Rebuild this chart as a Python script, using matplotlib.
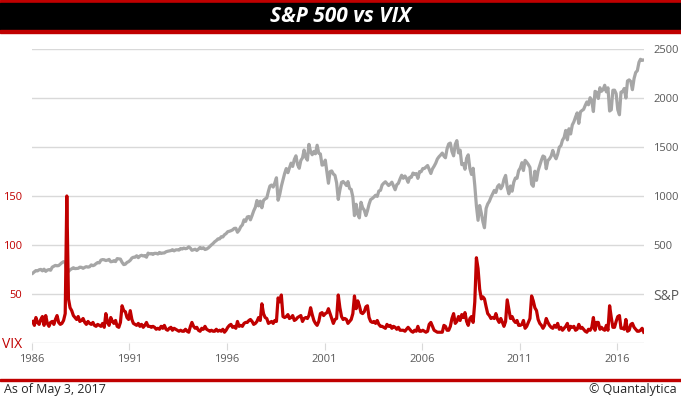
import numpy as np
import pandas as pd
import matplotlib
matplotlib.use("Agg")
import matplotlib.pyplot as plt
import matplotlib.dates as mdates
from matplotlib.patches import Rectangle

plt.rcParams['font.family'] = ['Open Sans', 'DejaVu Sans']

# monthly S&P 500 level, Jan 1986 .. May 2017
sp500 = [
    212, 227, 239, 236, 247, 251, 236, 253, 231, 244, 249, 242,        # 1986
    274, 284, 292, 288, 290, 304, 319, 330, 322, 225, 230, 247,        # 1987
    257, 268, 259, 261, 262, 274, 272, 262, 272, 279, 274, 278,        # 1988
    297, 289, 295, 310, 321, 318, 346, 351, 349, 341, 346, 353,        # 1989
    329, 332, 340, 331, 361, 358, 356, 323, 300, 304, 322, 330,        # 1990
    344, 367, 375, 375, 390, 371, 388, 395, 388, 392, 375, 417,        # 1991
    409, 413, 404, 415, 415, 408, 424, 414, 418, 419, 431, 436,        # 1992
    439, 443, 452, 440, 450, 451, 448, 464, 459, 468, 462, 466,        # 1993
    482, 467, 446, 451, 457, 444, 458, 475, 463, 472, 454, 459,        # 1994
    470, 487, 501, 515, 533, 545, 562, 562, 584, 582, 605, 616,        # 1995
    636, 640, 646, 654, 669, 671, 630, 652, 687, 705, 757, 741,        # 1996
    786, 791, 757, 801, 848, 885, 954, 899, 947, 880, 955, 970,        # 1997
    980, 1049, 1102, 1112, 1091, 1134, 1186, 957, 1017, 1099, 1164, 1229,  # 1998
    1280, 1238, 1286, 1335, 1302, 1373, 1410, 1320, 1283, 1363, 1389, 1469,  # 1999
    1394, 1366, 1527, 1452, 1421, 1455, 1431, 1518, 1437, 1429, 1315, 1320,  # 2000
    1366, 1240, 1130, 1249, 1256, 1224, 1211, 1134, 965, 1060, 1139, 1148,  # 2001
    1130, 1107, 1147, 1077, 1067, 990, 800, 916, 815, 777, 936, 880,    # 2002
    856, 800, 848, 917, 964, 975, 990, 1008, 996, 1051, 1058, 1112,    # 2003
    1131, 1145, 1126, 1107, 1121, 1141, 1102, 1064, 1115, 1130, 1174, 1212,  # 2004
    1181, 1204, 1181, 1140, 1191, 1191, 1234, 1220, 1229, 1180, 1249, 1248,  # 2005
    1280, 1281, 1295, 1311, 1270, 1230, 1277, 1304, 1336, 1378, 1401, 1418,  # 2006
    1438, 1407, 1390, 1482, 1531, 1540, 1455, 1410, 1527, 1565, 1440, 1468,  # 2007
    1320, 1331, 1273, 1386, 1420, 1280, 1220, 1283, 1106, 900, 752, 903,  # 2008
    826, 735, 676, 873, 919, 946, 987, 1021, 1057, 1036, 1096, 1115,   # 2009
    1074, 1104, 1169, 1210, 1089, 1022, 1102, 1049, 1141, 1183, 1181, 1258,  # 2010
    1286, 1340, 1260, 1364, 1345, 1321, 1292, 1120, 1099, 1253, 1160, 1258,  # 2011
    1312, 1366, 1408, 1398, 1278, 1362, 1379, 1407, 1465, 1412, 1380, 1426,  # 2012
    1498, 1515, 1569, 1598, 1669, 1573, 1686, 1633, 1725, 1757, 1806, 1848,  # 2013
    1741, 1859, 1872, 1884, 1924, 1960, 1931, 2003, 1972, 1862, 2068, 2059,  # 2014
    1995, 2105, 2068, 2086, 2130, 2063, 2104, 1867, 1880, 2079, 2080, 2044,  # 2015
    1880, 1829, 2060, 2065, 2097, 2000, 2174, 2185, 2168, 2085, 2199, 2260,  # 2016
    2279, 2364, 2395, 2384, 2388,                                      # 2017
]

# monthly VIX level, Jan 1986 .. May 2017
vix = [
    22, 18, 26, 21, 19, 24, 27, 18, 28, 20, 17, 21,      # 1986
    22, 19, 24, 28, 21, 19, 20, 23, 30, 150, 45, 36,     # 1987
    33, 28, 26, 24, 27, 22, 23, 25, 21, 19, 22, 20,      # 1988
    19, 21, 18, 17, 19, 18, 17, 20, 16, 30, 21, 18,      # 1989
    26, 22, 20, 23, 17, 16, 21, 38, 33, 32, 26, 24,      # 1990
    33, 24, 20, 19, 18, 20, 17, 19, 16, 18, 21, 17,      # 1991
    17, 16, 17, 16, 14, 15, 14, 17, 15, 18, 14, 13,      # 1992
    15, 16, 13, 15, 14, 13, 12, 13, 12, 12, 14, 12,      # 1993
    11, 17, 21, 17, 15, 16, 13, 12, 15, 14, 17, 14,      # 1994
    13, 12, 13, 12, 12, 14, 12, 13, 12, 14, 11, 13,      # 1995
    16, 18, 19, 16, 17, 15, 22, 17, 18, 17, 20, 21,      # 1996
    21, 23, 24, 22, 19, 20, 22, 26, 23, 40, 30, 26,      # 1997
    25, 20, 21, 22, 20, 23, 22, 46, 42, 49, 27, 26,      # 1998
    27, 29, 25, 26, 28, 23, 24, 26, 27, 28, 22, 25,      # 1999
    26, 25, 28, 36, 29, 23, 20, 18, 22, 30, 31, 28,      # 2000
    30, 31, 35, 30, 25, 20, 24, 25, 49, 36, 27, 24,      # 2001
    25, 24, 20, 22, 24, 30, 48, 35, 43, 38, 31, 30,      # 2002
    32, 37, 38, 26, 22, 21, 22, 20, 23, 19, 17, 17,      # 2003
    16, 15, 19, 17, 18, 15, 17, 16, 14, 16, 13, 13,      # 2004
    13, 12, 14, 16, 14, 12, 11, 13, 12, 17, 12, 12,      # 2005
    13, 12, 11, 12, 19, 21, 17, 13, 12, 11, 11, 11,      # 2006
    11, 18, 17, 13, 13, 17, 25, 30, 20, 22, 27, 23,      # 2007
    29, 26, 31, 22, 18, 25, 27, 21, 42, 87, 76, 55,      # 2008
    45, 47, 45, 37, 30, 28, 25, 26, 25, 30, 24, 21,      # 2009
    25, 21, 17, 22, 44, 34, 25, 27, 23, 21, 23, 18,      # 2010
    18, 19, 23, 15, 17, 21, 25, 48, 43, 36, 33, 24,      # 2011
    20, 18, 15, 18, 25, 21, 18, 16, 15, 18, 16, 20,      # 2012
    14, 16, 13, 15, 17, 20, 13, 17, 16, 17, 13, 14,      # 2013
    19, 15, 16, 14, 12, 11, 14, 13, 16, 26, 13, 21,      # 2014
    21, 14, 16, 14, 13, 18, 13, 38, 26, 16, 16, 22,      # 2015
    27, 28, 15, 15, 14, 24, 12, 13, 19, 20, 16, 14,      # 2016
    12, 12, 13, 15, 11,                                  # 2017
]

dates = pd.date_range('1986-01-01', periods=len(sp500), freq='MS') + pd.Timedelta(days=14)

sp_ticks = [-500, 0, 500, 1000, 1500, 2000, 2500]
sp_labels = ['', 'S&P', '500', '1000', '1500', '2000', '2500']
vix_ticks = [0, 50, 100, 150, 200, 250, 300]
vix_labels = ['VIX', '50', '100', '150', '', '', '']
year_ticks = pd.to_datetime([f'{y}-01-01' for y in range(1986, 2017, 5)])

red = '#C00000'
grey_line = '#A6A6A6'
grid_col = '#D9D9D9'
text_col = '#595959'

fig = plt.figure(figsize=(6.81, 3.99), dpi=100)
W, H = 681, 399

# title bar
fig.patches.append(Rectangle((0, 1 - 3 / H), 1, 3 / H, transform=fig.transFigure, color=red, zorder=0))
fig.patches.append(Rectangle((0, 1 - 30 / H), 1, 27 / H, transform=fig.transFigure, color='black', zorder=0))
fig.patches.append(Rectangle((0, 1 - 33 / H), 1, 3 / H, transform=fig.transFigure, color=red, zorder=0))
fig.text(0.5, 1 - 17 / H, 'S&P 500 vs VIX', color='white', fontsize=15,
         fontweight='bold', fontstyle='italic', ha='center', va='center')

# footer
fig.patches.append(Rectangle((0, 1 - 381 / H), 1, 2 / H, transform=fig.transFigure, color=red, zorder=0))
fig.text(4 / W, 1 - 389 / H, 'As of May 3, 2017', fontsize=9, color='#262626', ha='left', va='center')
fig.text(1 - 4 / W, 1 - 389 / H, '© Quantalytica', fontsize=9, color='#262626', ha='right', va='center')

ax = fig.add_axes([32 / W, 1 - 343 / H, 612 / W, 294 / H])
ax2 = ax.twinx()

# S&P 500 on the right-hand scale, drawn underneath
ax.plot(dates, sp500, color=grey_line, lw=2.3, solid_joinstyle='round')
ax.set_ylim(-500, 2500)
ax.set_xlim(pd.Timestamp('1986-01-01'), pd.Timestamp('2017-05-20'))
ax.set_yticks(sp_ticks)
ax.set_yticklabels(sp_labels)
ax.yaxis.tick_right()
ax.tick_params(axis='y', length=0, pad=6.5, labelsize=8, labelcolor=text_col)
ax.get_yticklabels()[1].set_fontsize(10)
ax.grid(axis='y', color=grid_col, lw=1)
ax.set_axisbelow(True)

ax.set_xticks(year_ticks)
ax.xaxis.set_major_formatter(mdates.DateFormatter('%Y'))
ax.tick_params(axis='x', length=5, color=grid_col, labelsize=8, labelcolor=text_col, pad=3)
for s in ['top', 'left', 'right', 'bottom']:
    ax.spines[s].set_visible(False)

# VIX on the left-hand scale, on top
ax2.plot(dates, vix, color=red, lw=2.3, solid_joinstyle='round')
ax2.set_ylim(0, 300)
ax2.set_yticks(vix_ticks)
ax2.set_yticklabels(vix_labels)
ax2.yaxis.tick_left()
ax2.tick_params(axis='y', length=0, pad=7, labelsize=8, labelcolor=red)
ax2.get_yticklabels()[0].set_fontsize(10)
for s in ['top', 'left', 'right', 'bottom']:
    ax2.spines[s].set_visible(False)

fig.savefig('out.png', dpi=100)
